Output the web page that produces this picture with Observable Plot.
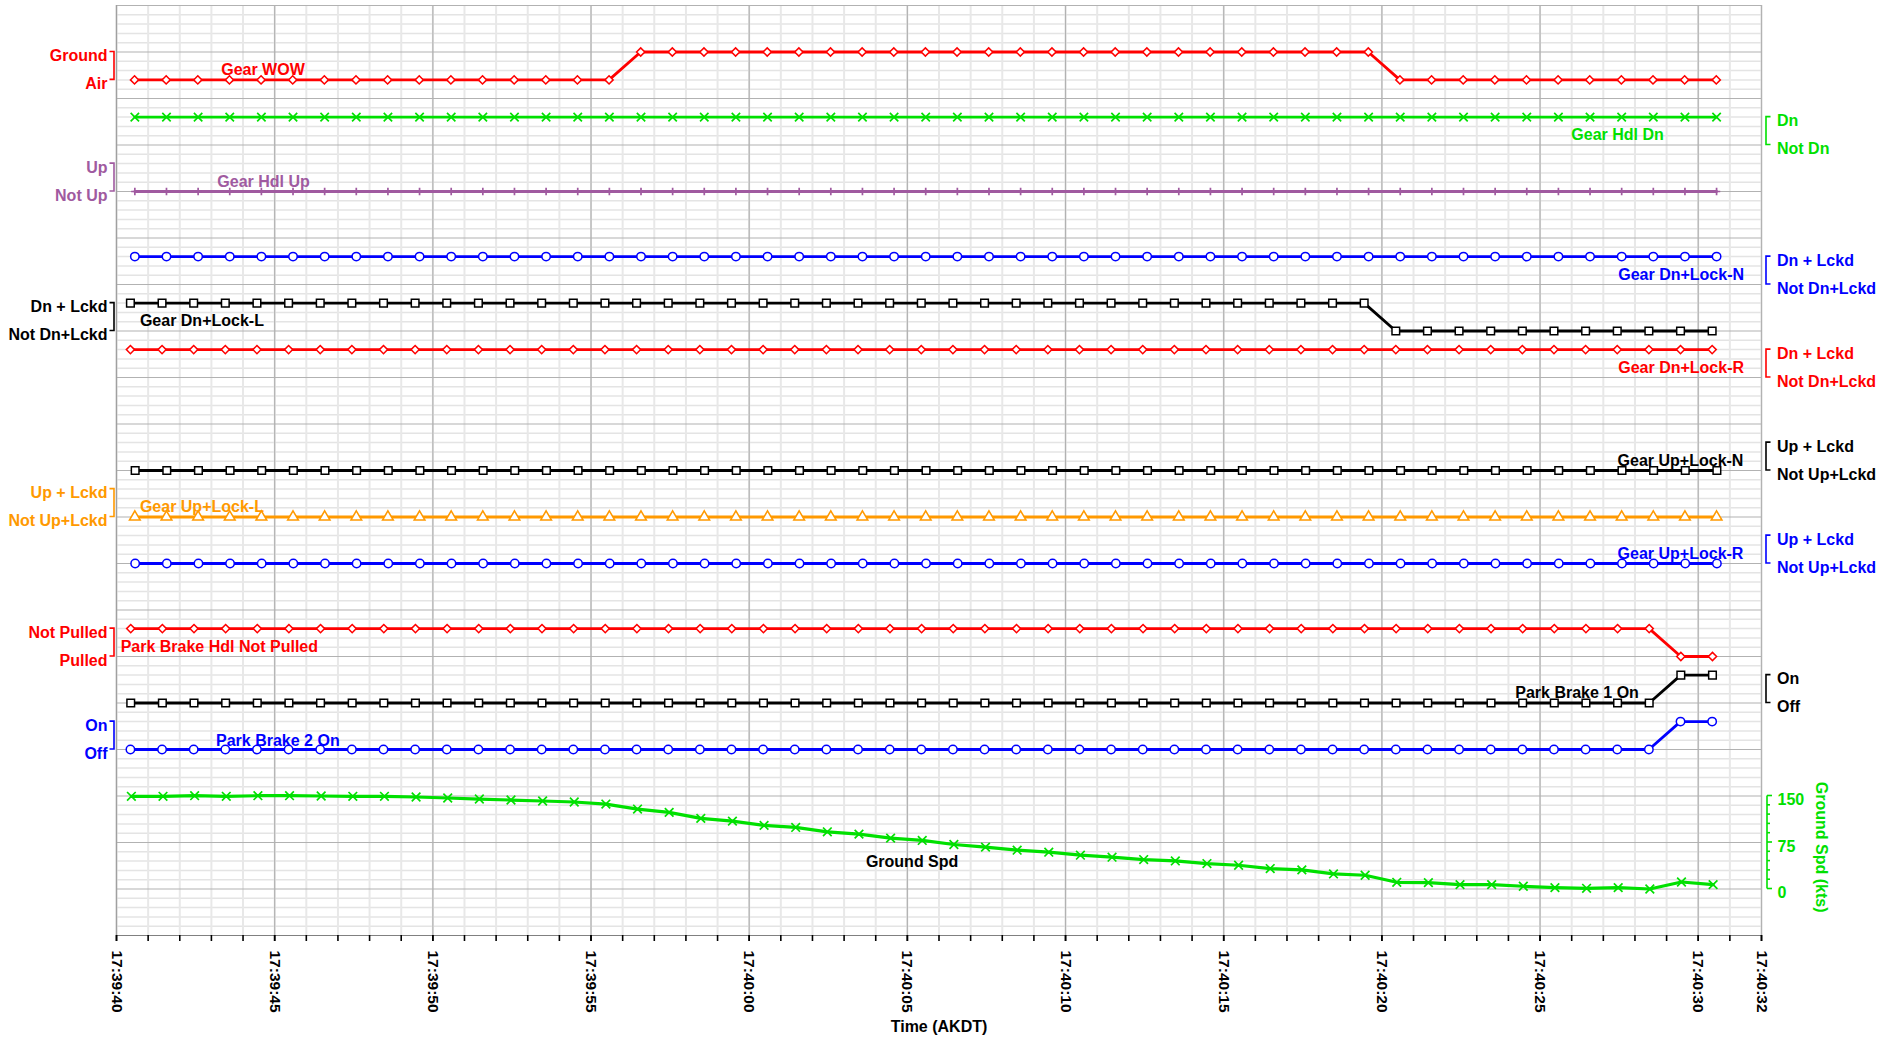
<!DOCTYPE html>
<html><head><meta charset="utf-8">
<script src="https://cdn.jsdelivr.net/npm/d3@7"></script>
<script src="https://cdn.jsdelivr.net/npm/@observablehq/plot@0.6"></script>
<style>html,body{margin:0;padding:0;background:#fff;overflow:hidden}svg{display:block}</style>
</head><body><div id="chart"></div>
<script>
// ---------- DATA ----------
const startTime = Date.UTC(2019, 0, 1, 17, 39, 40);   // 17:39:40 AKDT
const endSec = 52;                                     // axis ends 17:40:32
const sampleSec = [0,1,2,3,4,5,6,7,8,9,10,11,12,13,14,15,16,17,18,19,20,21,22,23,24,25,26,27,28,29,30,31,32,33,34,35,36,37,38,39,40,41,42,43,44,45,46,47,48,49,50];
const majorTickSec = [0,5,10,15,20,25,30,35,40,45,50,52];

// discrete parameters: 1 = upper state, 0 = lower state
const gearWOW      = [0,0,0,0,0,0,0,0,0,0,0,0,0,0,0,0,1,1,1,1,1,1,1,1,1,1,1,1,1,1,1,1,1,1,1,1,1,1,1,1,0,0,0,0,0,0,0,0,0,0,0];
const gearHdlDn    = [1,1,1,1,1,1,1,1,1,1,1,1,1,1,1,1,1,1,1,1,1,1,1,1,1,1,1,1,1,1,1,1,1,1,1,1,1,1,1,1,1,1,1,1,1,1,1,1,1,1,1];
const gearHdlUp    = [0,0,0,0,0,0,0,0,0,0,0,0,0,0,0,0,0,0,0,0,0,0,0,0,0,0,0,0,0,0,0,0,0,0,0,0,0,0,0,0,0,0,0,0,0,0,0,0,0,0,0];
const gearDnLockN  = [1,1,1,1,1,1,1,1,1,1,1,1,1,1,1,1,1,1,1,1,1,1,1,1,1,1,1,1,1,1,1,1,1,1,1,1,1,1,1,1,1,1,1,1,1,1,1,1,1,1,1];
const gearDnLockL  = [1,1,1,1,1,1,1,1,1,1,1,1,1,1,1,1,1,1,1,1,1,1,1,1,1,1,1,1,1,1,1,1,1,1,1,1,1,1,1,1,0,0,0,0,0,0,0,0,0,0,0];
const gearDnLockR  = [1,1,1,1,1,1,1,1,1,1,1,1,1,1,1,1,1,1,1,1,1,1,1,1,1,1,1,1,1,1,1,1,1,1,1,1,1,1,1,1,1,1,1,1,1,1,1,1,1,1,1];
const gearUpLockN  = [0,0,0,0,0,0,0,0,0,0,0,0,0,0,0,0,0,0,0,0,0,0,0,0,0,0,0,0,0,0,0,0,0,0,0,0,0,0,0,0,0,0,0,0,0,0,0,0,0,0,0];
const gearUpLockL  = [0,0,0,0,0,0,0,0,0,0,0,0,0,0,0,0,0,0,0,0,0,0,0,0,0,0,0,0,0,0,0,0,0,0,0,0,0,0,0,0,0,0,0,0,0,0,0,0,0,0,0];
const gearUpLockR  = [0,0,0,0,0,0,0,0,0,0,0,0,0,0,0,0,0,0,0,0,0,0,0,0,0,0,0,0,0,0,0,0,0,0,0,0,0,0,0,0,0,0,0,0,0,0,0,0,0,0,0];
const parkBrakeHdl = [1,1,1,1,1,1,1,1,1,1,1,1,1,1,1,1,1,1,1,1,1,1,1,1,1,1,1,1,1,1,1,1,1,1,1,1,1,1,1,1,1,1,1,1,1,1,1,1,1,0,0];
const parkBrake1   = [0,0,0,0,0,0,0,0,0,0,0,0,0,0,0,0,0,0,0,0,0,0,0,0,0,0,0,0,0,0,0,0,0,0,0,0,0,0,0,0,0,0,0,0,0,0,0,0,0,1,1];
const parkBrake2   = [0,0,0,0,0,0,0,0,0,0,0,0,0,0,0,0,0,0,0,0,0,0,0,0,0,0,0,0,0,0,0,0,0,0,0,0,0,0,0,0,0,0,0,0,0,0,0,0,0,1,1];
// ground speed, kts
const groundSpd = [149.5,149.5,150.5,149.5,150.5,150.5,150,149.5,149.5,148.4,146.8,145.1,143.5,141.9,140.3,137,128.9,123.6,113.9,109.5,102.6,99.3,92.2,88.5,82,78.3,71.8,67.5,62.6,59.4,54.5,51.3,47.5,45.3,41,38.3,33,30.8,24.3,22.2,10.8,10.3,7.1,7.1,4.4,2.2,1.1,2.2,0,11.3,7.1];
const spdTicks = [150, 75, 0];

// ---------- LAYOUT / STYLE ----------
const RED = "#ff0000", GREEN = "#00e000", PURPLE = "#a05aa0", BLUE = "#0000ff", BLACK = "#000000", ORANGE = "#ff9900";
const FONT = "'Liberation Sans', Arial, sans-serif";
const spdTop = 17, spdBottom = 19, spdMax = 150;       // ground speed band on shared track axis
const spdToY = v => spdBottom - (v / spdMax) * (spdBottom - spdTop);

const series = [
  {key:"wow",  name:"Gear WOW",        values:gearWOW,     top:1.0,  bottom:1.6,  color:RED,    symbol:"diamond2", r:3.7, phase:0.57, hi:"Ground",     lo:"Air",         side:"left",  lt:4.63,  ly:1.383},
  {key:"hdn",  name:"Gear Hdl Dn",     values:gearHdlDn,   top:2.4,  bottom:3.0,  color:GREEN,  symbol:"times",    r:3.9, phase:0.58, hi:"Dn",         lo:"Not Dn",      side:"right", lt:47.45, ly:2.79},
  {key:"hup",  name:"Gear Hdl Up",     values:gearHdlUp,   top:3.4,  bottom:4.0,  color:PURPLE, symbol:"plus",     r:2.5, phase:0.58, hi:"Up",         lo:"Not Up",      side:"left",  lt:4.65,  ly:3.80},
  {key:"dln",  name:"Gear Dn+Lock-N",  values:gearDnLockN, top:5.4,  bottom:6.0,  color:BLUE,   symbol:"circle",   r:4.2, phase:0.58, hi:"Dn + Lckd",  lo:"Not Dn+Lckd", side:"right", lt:49.46, ly:5.785},
  {key:"dll",  name:"Gear Dn+Lock-L",  values:gearDnLockL, top:6.4,  bottom:7.0,  color:BLACK,  symbol:"square",   r:4.3, phase:0.44, hi:"Dn + Lckd",  lo:"Not Dn+Lckd", side:"left",  lt:2.70,  ly:6.79},
  {key:"dlr",  name:"Gear Dn+Lock-R",  values:gearDnLockR, top:7.4,  bottom:8.0,  color:RED,    symbol:"diamond2", r:3.7, phase:0.44, hi:"Dn + Lckd",  lo:"Not Dn+Lckd", side:"right", lt:49.46, ly:7.79},
  {key:"uln",  name:"Gear Up+Lock-N",  values:gearUpLockN, top:9.4,  bottom:10.0, color:BLACK,  symbol:"square",   r:4.3, phase:0.59, hi:"Up + Lckd",  lo:"Not Up+Lckd", side:"right", lt:49.44, ly:9.785},
  {key:"ull",  name:"Gear Up+Lock-L",  values:gearUpLockL, top:10.4, bottom:11.0, color:ORANGE, symbol:"triangle", r:4.0, phase:0.58, hi:"Up + Lckd",  lo:"Not Up+Lckd", side:"left",  lt:2.70,  ly:10.79},
  {key:"ulr",  name:"Gear Up+Lock-R",  values:gearUpLockR, top:11.4, bottom:12.0, color:BLUE,   symbol:"circle",   r:4.2, phase:0.59, hi:"Up + Lckd",  lo:"Not Up+Lckd", side:"right", lt:49.44, ly:11.79},
  {key:"pbh",  name:"Park Brake Hdl Not Pulled", values:parkBrakeHdl, top:13.4, bottom:14.0, color:RED, symbol:"diamond2", r:3.7, phase:0.45, hi:"Not Pulled", lo:"Pulled", side:"left", lt:3.25, ly:13.80},
  {key:"pb1",  name:"Park Brake 1 On", values:parkBrake1,  top:14.4, bottom:15.0, color:BLACK,  symbol:"square",   r:4.3, phase:0.45, hi:"On",         lo:"Off",         side:"right", lt:46.17, ly:14.79},
  {key:"pb2",  name:"Park Brake 2 On", values:parkBrake2,  top:15.4, bottom:16.0, color:BLUE,   symbol:"circle",   r:4.2, phase:0.44, hi:"On",         lo:"Off",         side:"left",  lt:5.10,  ly:15.81}
];
const spdPhase = 0.47;

const tm = s => new Date(startTime + s * 1000);

// ---------- BUILD ----------
const marks = [];
const minorY = d3.range(0, 20.001, 0.2).filter(v => Math.abs(v - Math.round(v)) > 1e-6);
const majorY = d3.range(0, 21, 1);
const minorX = d3.range(0, endSec + 1, 1).map(tm);
const majorX = majorTickSec.map(tm);

marks.push(Plot.ruleY(minorY, {stroke:"#e4e4e4", strokeWidth:1.5}));
marks.push(Plot.ruleX(minorX, {stroke:"#e8e8e8", strokeWidth:2}));
marks.push(Plot.ruleY(majorY.slice(0, 20), {stroke:"#b2b2b2", strokeWidth:1.2}));
marks.push(Plot.ruleX(majorX, {stroke:"#b2b2b2", strokeWidth:1.2}));
marks.push(Plot.ruleX([tm(0)], {stroke:"#a0a0a0", strokeWidth:1.2}));
marks.push(Plot.ruleY([20], {stroke:"#808080", strokeWidth:1.2}));

for (const s of series) {
  const rows = s.values.map((v, k) => ({t: tm(s.phase + sampleSec[k]), y: v ? s.top : s.bottom}));
  marks.push(Plot.line(rows, {x:"t", y:"y", stroke:s.color, strokeWidth:2.8}));
  const isStrokeOnly = s.symbol === "times" || s.symbol === "plus";
  marks.push(Plot.dot(rows, {x:"t", y:"y", symbol:s.symbol, r:s.r, stroke:s.color, strokeWidth: isStrokeOnly ? 1.7 : 1.5, fill: isStrokeOnly ? "none" : "white"}));
}
const spdRows = groundSpd.map((v, k) => ({t: tm(spdPhase + sampleSec[k]), y: spdToY(v)}));
marks.push(Plot.line(spdRows, {x:"t", y:"y", stroke:GREEN, strokeWidth:3.2}));
marks.push(Plot.dot(spdRows, {x:"t", y:"y", symbol:"times", r:4, stroke:GREEN, strokeWidth:1.7}));

// series labels
const txt = {fontFamily:FONT, fontSize:16, fontWeight:"bold"};
marks.push(Plot.text(series, {x: d => tm(d.lt), y:"ly", text:"name", fill: d => d.color, ...txt}));
marks.push(Plot.text([{n:"Ground Spd"}], {x: () => tm(25.15), y: () => 18.41, text:"n", fill:BLACK, ...txt}));

// state labels
const stateLabels = series.flatMap(s => [
  {text:s.hi, y:s.top, color:s.color, side:s.side},
  {text:s.lo, y:s.bottom, color:s.color, side:s.side}
]);
marks.push(Plot.text(stateLabels.filter(d => d.side === "left"), {x: () => tm(0), y:"y", text:"text", fill: d => d.color, textAnchor:"end", dx:-9, dy:4, ...txt}));
marks.push(Plot.text(stateLabels.filter(d => d.side === "right"), {x: () => tm(endSec), y:"y", text:"text", fill: d => d.color, textAnchor:"start", dx:15.5, dy:4, ...txt}));

// ground speed axis labels
marks.push(Plot.text(spdTicks, {x: () => tm(endSec), y: d => spdToY(d), text: d => String(d), fill:GREEN, textAnchor:"start", dx:16, dy:4, ...txt}));
marks.push(Plot.text(["Ground Spd (kts)"], {x: () => tm(endSec), y: () => 18.1, text: d => d, fill:GREEN, rotate:90, dx:60, ...txt}));

// brackets + right axis (via the plot's own scales)
marks.push((index, scales, values, dimensions) => {
  const g = d3.create("svg:g");
  const xl = scales.x(tm(0)), xr = scales.x(tm(endSec));
  for (const s of series) {
    const y1 = scales.y(s.top), y2 = scales.y(s.bottom);
    const xv = s.side === "left" ? xl - 2 : xr + 5;
    const xt = s.side === "left" ? xv - 4.5 : xv + 4.5;
    g.append("path").attr("d", `M${xt},${y1}H${xv}V${y2}H${xt}`)
      .attr("fill", "none").attr("stroke", s.color).attr("stroke-width", 1.6);
  }
  const xa = xr + 6;
  g.append("path").attr("d", `M${xa},${scales.y(spdTop)}V${scales.y(spdBottom)}`).attr("stroke", GREEN).attr("stroke-width", 1.6);
  for (const v of d3.range(spdTop, spdBottom + 0.001, 0.2)) {
    const major = Math.abs(v - Math.round(v)) < 1e-6;
    g.append("path").attr("d", `M${xa},${scales.y(v)}h${major ? 5 : 3}`).attr("stroke", GREEN).attr("stroke-width", 1.6);
  }
  return g.node();
});

// x axis
marks.push(Plot.axisX({ticks: minorX, tickFormat: () => "", tickSize: 6, stroke: BLACK, strokeWidth: 1.6, label: null}));
marks.push(Plot.axisX({ticks: majorX, tickFormat: d3.utcFormat("%H:%M:%S"), tickSize: 6, tickPadding: 9, tickRotate: 90,
  stroke: BLACK, strokeWidth: 1.6, fill: BLACK, fontSize: 15.5, fontWeight: "bold", fontFamily: FONT, label: null}));
marks.push(Plot.text(["Time (AKDT)"], {frameAnchor:"bottom", dy: 96, text: d => d, fill:BLACK, ...txt}));

const chart = Plot.plot({
  width: 1900, height: 1044,
  marginLeft: 116, marginRight: 139, marginTop: 5, marginBottom: 109,
  style: {fontFamily: FONT, background: "#fff", overflow: "visible"},
  x: {type: "utc", domain: [tm(0), tm(endSec)]},
  y: {domain: [0, 20], reverse: true, axis: null},
  marks
});
document.getElementById("chart").appendChild(chart);
</script>
</body></html>
